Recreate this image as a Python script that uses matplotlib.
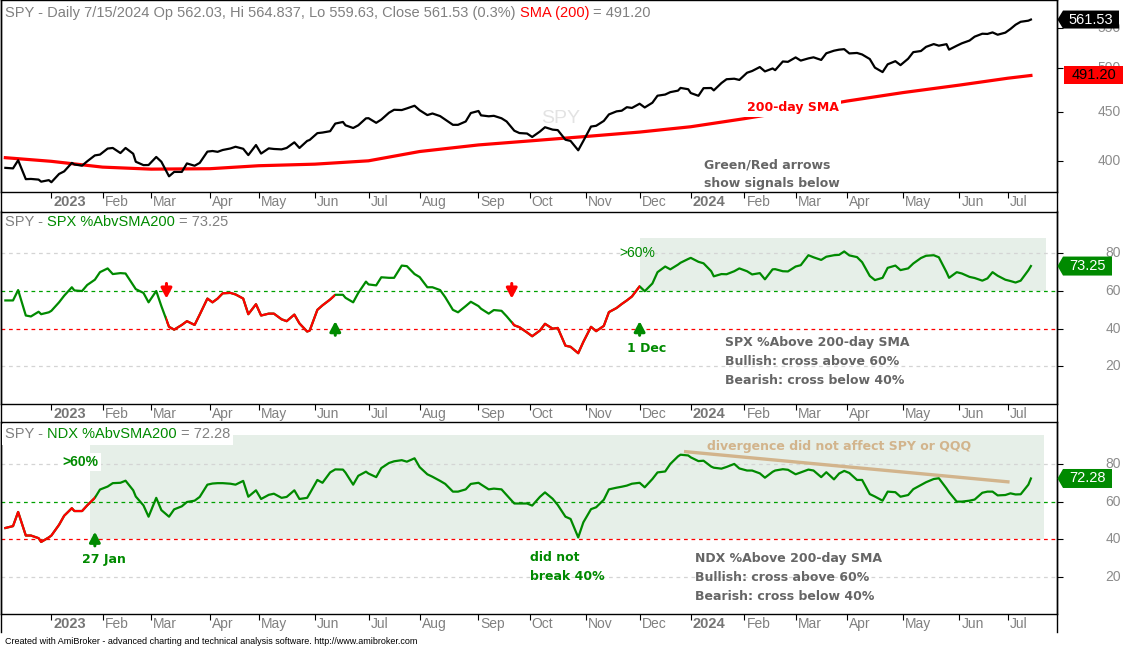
import numpy as np
import pandas as pd
import matplotlib
matplotlib.use('Agg')
import matplotlib.pyplot as plt
from matplotlib.patches import Rectangle, Polygon
from matplotlib.lines import Line2D
from matplotlib.ticker import FixedLocator, NullLocator

plt.rcParams['font.family'] = ['Liberation Sans', 'DejaVu Sans']

W, H = 1123, 647
GREEN = '#008a00'
RED = '#ff0000'
GRAY = '#808080'
NOTE = '#666666'
TAN = '#d2b48c'
SHADE = '#e6efe8'

# US market holidays in the period (trading-day axis like AmiBroker)
HOLIDAYS = ['2022-12-26', '2023-01-02', '2023-01-16', '2023-02-20', '2023-04-07',
            '2023-05-29', '2023-06-19', '2023-07-04', '2023-09-04', '2023-11-23',
            '2023-12-25', '2024-01-01', '2024-01-15', '2024-02-19', '2024-03-29',
            '2024-05-27', '2024-06-19', '2024-07-04']

# Friday samples, first bar Dec 6 2022, last bar Jul 15 2024
fridays = pd.date_range('2022-12-09', '2024-07-12', freq='W-FRI').strftime('%Y-%m-%d').tolist()
dates = ['2022-12-06'] + fridays + ['2024-07-15']
# Tuesday samples in between
tuesdays = pd.date_range('2022-12-13', '2024-07-09', freq='W-TUE').strftime('%Y-%m-%d').tolist()

spy_close_fri = [
    393.8, 393.3, 383.3, 382.9, 382.4,          # Dec 22
    388.1, 398.5, 395.9, 405.7,                 # Jan 23
    412.4, 408.0, 407.3, 396.4,                 # Feb
    404.2, 385.9, 390.0, 395.8, 409.4,          # Mar
    409.2, 412.5, 412.2, 415.9,                 # Apr
    412.6, 411.6, 418.6, 420.0,                 # May
    427.9, 429.9, 439.5, 433.2, 443.3,          # Jun
    438.6, 449.3, 452.2, 456.9,                 # Jul
    446.8, 445.7, 436.5, 440.0,                 # Aug
    451.2, 445.5, 443.4, 430.4, 427.5,          # Sep
    429.5, 431.5, 421.2, 410.7,                 # Oct
    434.7, 440.6, 450.8, 455.3,                 # Nov
    459.1, 460.2, 469.3, 473.7, 475.3,          # Dec
    467.9, 476.7, 482.4, 487.4,                 # Jan 24
    494.4, 501.2, 499.5, 507.9,                 # Feb
    512.9, 511.7, 509.8, 521.2, 523.1,          # Mar
    518.4, 510.9, 495.2, 508.3,                 # Apr
    511.3, 520.8, 529.5, 529.4, 527.4,          # May
    534.0, 542.8, 544.5, 544.2,                 # Jun
    554.6, 560.0, 561.53,                       # Jul
]
spy_close_tue = [
    401.0, 383.5, 381.0,
    380.5, 390.5, 397.0, 400.0, 406.5,
    413.0, 413.0, 399.6, 396.5,
    399.6, 390.0, 398.0, 398.5,
    410.0, 411.0, 414.2, 406.0,
    407.5, 412.0, 413.0, 413.0, 421.0,
    428.5, 437.8, 436.0, 436.0,
    443.5, 442.0, 452.5, 454.0,
    452.0, 448.5, 442.0, 436.5, 449.0,
    446.5, 446.0, 440.0, 428.0,
    424.0, 434.0, 431.0, 420.0, 420.0,
    435.5, 447.5, 451.5, 454.5,
    455.0, 468.0, 472.0, 476.8,
    471.0, 476.5, 474.0, 486.8, 486.0,
    496.5, 496.0, 497.5, 507.5,
    509.0, 513.0, 518.0, 522.5,
    517.8, 516.5, 500.5, 504.5, 503.5,
    519.4, 526.0, 527.5, 522.5,
    530.5, 539.0, 542.5, 541.5,
    549.0, 558.5,
]

spx_pct_fri = [
    55, 55, 47, 49, 48.7,
    54, 62, 60, 66,
    72, 69.5, 63, 59,
    60, 41, 42, 42, 56,
    56, 59, 56, 53,
    48, 45, 47.5, 38.5,
    50, 55.5, 58, 54, 65,
    63, 67, 73.5, 69,
    62, 60.5, 50, 52,
    52, 48, 49.5, 41.8, 38,
    39, 40, 31, 27,
    41, 41.5, 51, 55,
    62.5, 64, 73, 74, 77,
    75.5, 70.5, 69, 70.5,
    70.5, 69.5, 71.5, 70.5,
    73, 79, 76.5, 79, 81,
    78, 68, 67, 73.5,
    72, 77.5, 79, 70, 70,
    67.5, 65.5, 70, 66,
    64.5, 71, 73.25,
]
spx_pct_tue = [
    60.5, 46.5, 47.7,
    49.5, 57.5, 60.3, 63.2, 70,
    69, 69.3, 61, 54,
    52, 39.5, 44, 47.5,
    54, 58.8, 58.2, 47.7,
    47, 48, 44, 42.8, 39,
    52.4, 58, 56.4, 59,
    63.5, 67.3, 67, 73.2,
    67.4, 62, 56.7, 48.7, 54.3,
    50.6, 49.9, 46.6, 40.8,
    36, 42.6, 40.4, 30.4, 33,
    38.7, 48.8, 53.1, 57.1,
    59.9, 70, 71.5, 75,
    77.6, 74.7, 67.8, 68.9, 72,
    68.8, 66.2, 71.6, 70.4,
    73.7, 77.9, 78.2, 79.2,
    78.9, 75.3, 65.8, 72.3, 71.1,
    74.6, 78.7, 77.9, 67,
    69.3, 66.9, 66.7, 68.1,
    65.3, 65.5,
]

ndx_pct_fri = [
    46, 47, 42, 40.6, 41,
    47.7, 56.5, 55, 62,
    68, 70, 66, 58,
    62, 52, 57.5, 60.5, 69,
    69.8, 69.5, 71, 66,
    63.6, 62, 66, 62,
    71.5, 75.5, 77, 69, 75.9,
    73, 80.5, 82, 83,
    74.5, 71, 65.3, 66.5,
    70, 66.5, 66.5, 59, 59,
    62.5, 61.5, 52, 41,
    56, 61, 67.4, 68.5,
    70, 72, 76, 84, 84.5,
    81.5, 78.6, 77.5, 80,
    76.5, 75, 75.8, 77.2,
    74.5, 77, 73, 71.8, 76.3,
    71.5, 64, 60.5, 65,
    63.5, 68.8, 72, 67, 60,
    60.5, 64.7, 65.3, 63.5,
    63.8, 69, 72.28,
]
ndx_pct_tue = [
    54.5, 42, 38.6,
    42, 52.5, 55, 58, 66.4,
    69.8, 71.1, 62.7, 52,
    55.5, 55.9, 59.8, 62.5,
    69.6, 69.8, 69, 62.6,
    61.4, 64.2, 62.5, 61.4, 64.3,
    70, 77.1, 75.4, 73.7,
    74.9, 77.8, 81.4, 81.2,
    78.3, 73.2, 69.4, 65.3, 69.4,
    69.1, 66.9, 63.5, 59,
    57.9, 64.9, 58.2, 50.8, 49,
    57, 66.5, 67.9, 69.5,
    67.6, 75.5, 80, 84.9,
    83.5, 81.7, 78, 78.4, 77.6,
    76.5, 72.7, 76.5, 76.9,
    75.5, 76.5, 75.6, 74.9,
    75.2, 71.5, 62.7, 65.3, 62.6,
    66.6, 70.3, 72.4, 65,
    60, 61.1, 65.3, 63.3,
    64.4, 63.9,
]

sma_dates = ['2022-12-06', '2023-01-03', '2023-02-01', '2023-03-01', '2023-04-03',
             '2023-05-01', '2023-06-01', '2023-07-03', '2023-08-01', '2023-09-01',
             '2023-10-02', '2023-11-01', '2023-12-01', '2024-01-02', '2024-02-01',
             '2024-03-01', '2024-04-01', '2024-05-01', '2024-06-03', '2024-07-01',
             '2024-07-15']
sma200 = [403.5, 400, 394.5, 392.6, 393.0, 395.8, 397.3, 400.5, 409.5, 416,
          420, 424.5, 429, 434.5, 443, 452, 462, 471.5, 480, 488, 491.2]

spx_sell_dates = ['2023-03-09', '2023-09-21']
spx_buy_dates = ['2023-06-13', '2023-12-01']
ndx_buy_dates = ['2023-01-27']


def bar(d, roll='backward'):
    d = np.busday_offset(np.datetime64(d, 'D'), 0, roll=roll, holidays=HOLIDAYS)
    return int(np.busday_count(np.datetime64('2023-01-03'), d, holidays=HOLIDAYS))


x_fri = np.array([bar(d) for d in dates])
x_tue = np.array([bar(d) for d in tuesdays])
x_sma = np.array([bar(d) for d in sma_dates])
XLIM = (-19.7, 393.2)

# merge Friday and Tuesday samples in time order
x_all = np.concatenate([x_fri, x_tue])
order = np.argsort(x_all, kind='stable')
x_all = x_all[order]
spy_close = np.concatenate([spy_close_fri, spy_close_tue])[order]
spx_pct = np.concatenate([spx_pct_fri, spx_pct_tue])[order]
ndx_pct = np.concatenate([ndx_pct_fri, ndx_pct_tue])[order]

months = pd.date_range('2023-01-01', '2024-07-01', freq='MS')
month_bars = [bar(m.strftime('%Y-%m-%d'), roll='forward') for m in months]
month_labels = [str(m.year) if m.month == 1 else m.strftime('%b') for m in months]

fig = plt.figure(figsize=(W / 100, H / 100), dpi=100)


def px_axes(top, bottom):
    return fig.add_axes([1 / W, 1 - bottom / H, 1056 / W, (bottom - top) / H])


def fx(px):
    return px / W


def fy(py):
    return 1 - py / H


def style_axes(ax, yt):
    ax.set_xlim(*XLIM)
    for s in ax.spines.values():
        s.set_linewidth(1.0)
        s.set_color('black')
    ax.xaxis.set_major_locator(FixedLocator(month_bars))
    ax.yaxis.set_major_locator(FixedLocator(yt))
    ax.yaxis.set_minor_locator(NullLocator())
    ax.tick_params(axis='x', direction='out', length=4.5, width=0.8, labelbottom=False)
    ax.tick_params(axis='y', which='both', left=False, right=True, direction='out',
                   length=4.5, width=0.8, labelleft=False, labelright=False)
    for b, lab in zip(month_bars, month_labels):
        year = lab.isdigit()
        ax.annotate(lab, xy=(b, 0), xycoords=('data', 'axes fraction'),
                    xytext=(1.6, -7.4), textcoords='offset points', ha='left', va='center',
                    fontsize=10.5 if year else 10, fontweight='bold' if year else 'normal',
                    color='#757575' if year else GRAY, annotation_clip=False)
    for v in yt:
        ax.annotate(str(v), xy=(1, v), xycoords=('axes fraction', 'data'),
                    xytext=(46, 0), textcoords='offset points', ha='right', va='center',
                    fontsize=10, color='#8c8c8c', annotation_clip=False)


def value_tag(ax, value, label, face, tcolor, arrow=True, x0=1063, x1=1119, half=9):
    ypx = ax.transData.transform((XLIM[0], value))[1]
    yc = ypx / H
    hy = half / H
    if arrow:
        pts = [(fx(1057.5), yc), (fx(x0), yc + hy), (fx(x1), yc + hy),
               (fx(x1), yc - hy), (fx(x0), yc - hy)]
    else:
        pts = [(fx(x0), yc + hy), (fx(x1), yc + hy), (fx(x1), yc - hy), (fx(x0), yc - hy)]
    fig.add_artist(Polygon(pts, closed=True, transform=fig.transFigure,
                           facecolor=face, edgecolor='none', zorder=10))
    fig.text(fx((x0 + x1) / 2), yc, label, ha='center', va='center', color=tcolor,
             fontsize=10.5, zorder=11)


def colored_title(parts, y_base, bg=False):
    r = fig.canvas.get_renderer()
    xp = 5
    space = 4
    for txt, col in parts:
        kw = {}
        if bg:
            kw['bbox'] = dict(facecolor='white', edgecolor='none', pad=2.5)
        t = fig.text(fx(xp), fy(y_base), txt, color=col, fontsize=10.5,
                     ha='left', va='baseline', zorder=8, **kw)
        xp += t.get_window_extent(r).width + space


def signal_line(ax, vals, red_spans):
    ax.plot(x_all, vals, color=GREEN, lw=1.6, zorder=3, solid_joinstyle='round')
    for b0, b1 in red_spans:
        ln, = ax.plot(x_all, vals, color=RED, lw=1.6, zorder=4, solid_joinstyle='round')
        clip = Rectangle((b0, -50), b1 - b0, 300, transform=ax.transData)
        ln.set_clip_path(clip)


def arrow(ax, b, tail, tip, col):
    ax.annotate('', xy=(b, tip), xytext=(b, tail),
                arrowprops=dict(arrowstyle='-|>,head_width=0.32,head_length=0.6',
                                color=col, lw=2.2, shrinkA=0, shrinkB=0, mutation_scale=10),
                zorder=6)


def pct_guides(ax):
    for v in (20, 80):
        ax.axhline(v, color='#d4d4d4', lw=0.9, ls=(0, (3, 3)), zorder=1)
    ax.axhline(60, color='#00a000', lw=0.9, ls=(0, (3, 3)), zorder=2)
    ax.axhline(40, color=RED, lw=0.9, ls=(0, (3, 3)), zorder=2)


# ---------------- panel 1: SPY with 200-day SMA ----------------
ax1 = px_axes(0, 192)
ax1.set_yscale('log')
ax1.set_ylim(371.7, 588.4)
style_axes(ax1, [400, 450, 500, 550])
ax1.plot(x_all, spy_close, color='black', lw=1.6, zorder=3)
ax1.plot(x_sma, sma200, color=RED, lw=2.3, zorder=2)
ax1.text((541 - 1) / 1056, (192 - 118.5) / 192, 'SPY', transform=ax1.transAxes,
         color='#e3e3e3', fontsize=14, ha='left', va='center', zorder=0)

# ---------------- panel 2: SPX % above 200-day ----------------
ax2 = px_axes(211.5, 403.7)
ax2.set_ylim(0.2, 102.2)
style_axes(ax2, [20, 40, 60, 80])
pct_guides(ax2)
ax2.add_patch(Rectangle((bar('2023-12-01'), 60), bar('2024-07-23') - bar('2023-12-01'), 28.3,
                        facecolor=SHADE, edgecolor='none', zorder=0))
signal_line(ax2, spx_pct, [(bar(a), bar(b)) for a, b in zip(spx_sell_dates, spx_buy_dates)])
for d in spx_sell_dates:
    arrow(ax2, bar(d), 64, 56, RED)
for d in spx_buy_dates:
    arrow(ax2, bar(d), 36.5, 44, GREEN)

# ---------------- panel 3: NDX % above 200-day ----------------
ax3 = px_axes(422.3, 614)
ax3.set_ylim(0.35, 102.1)
style_axes(ax3, [20, 40, 60, 80])
pct_guides(ax3)
ax3.add_patch(Rectangle((bar('2023-01-25'), 40), bar('2024-07-22') - bar('2023-01-25'), 55.4,
                        facecolor=SHADE, edgecolor='none', zorder=0))
signal_line(ax3, ndx_pct, [(XLIM[0], bar(ndx_buy_dates[0]))])
for d in ndx_buy_dates:
    arrow(ax3, bar(d), 36.5, 44, GREEN)
ax3.plot([bar('2023-12-28'), bar('2024-07-01')], [86.5, 70.5], color=TAN, lw=2.4, zorder=5)

# ---------------- frame lines through the date strips ----------------
for xp in (1, 1057):
    fig.add_artist(Line2D([fx(xp), fx(xp)], [fy(632), 1], color='black', lw=1.0,
                          transform=fig.transFigure))

# ---------------- titles ----------------
colored_title([('SPY - Daily 7/15/2024 Op 562.03, Hi 564.837, Lo 559.63, Close 561.53 (0.3%)', GRAY),
               ('SMA (200)', RED), ('= 491.20', GRAY)], 17)
colored_title([('SPY -', GRAY), ('SPX %AbvSMA200', GREEN), ('= 73.25', GRAY)], 226.5)
colored_title([('SPY -', GRAY), ('NDX %AbvSMA200', GREEN), ('= 72.28', GRAY)], 438, bg=True)

# ---------------- notes ----------------
bold = dict(family='DejaVu Sans', fontweight='bold', fontsize=9, va='center', ha='left', zorder=9)
fig.text(fx(746.6), fy(108), '200-day SMA', color=RED,
         bbox=dict(facecolor='white', edgecolor='none', pad=1.5), **bold)
fig.text(fx(704), fy(165), 'Green/Red arrows', color=NOTE, **bold)
fig.text(fx(704), fy(184), 'show signals below', color=NOTE, **bold)

fig.text(fx(619.6), fy(252.7), '>60%', color=GREEN, fontsize=10, va='center', ha='left', zorder=9)
fig.text(fx(626.8), fy(349), '1 Dec', color=GREEN, **bold)
for i, line in enumerate(['SPX %Above 200-day SMA', 'Bullish: cross above 60%',
                          'Bearish: cross below 40%']):
    fig.text(fx(725.3), fy(342.7 + 18.9 * i), line, color=NOTE, **bold)

fig.text(fx(62.5), fy(461.7), '>60%', color=GREEN, fontsize=10, fontweight='bold',
         va='center', ha='left', zorder=9,
         bbox=dict(facecolor='white', edgecolor='none', pad=1.5))
fig.text(fx(82), fy(559.3), '27 Jan', color=GREEN, **bold)
fig.text(fx(530), fy(557.7), 'did not', color=GREEN, **bold)
fig.text(fx(530), fy(576.7), 'break 40%', color=GREEN, **bold)
fig.text(fx(707), fy(446.7), 'divergence did not affect SPY or QQQ', color=TAN, **bold)
for i, line in enumerate(['NDX %Above 200-day SMA', 'Bullish: cross above 60%',
                          'Bearish: cross below 40%']):
    fig.text(fx(695.4), fy(558.3 + 19.2 * i), line, color=NOTE, **bold)

# ---------------- last-value tags ----------------
value_tag(ax1, spy_close[-1], '561.53', 'black', 'white')
value_tag(ax1, sma200[-1], '491.20', RED, 'black', arrow=False, x0=1064, x1=1123)
value_tag(ax2, spx_pct[-1], '73.25', GREEN, 'white', x1=1112, half=9.5)
value_tag(ax3, ndx_pct[-1], '72.28', GREEN, 'white', x1=1112, half=9.5)

fig.text(fx(5), fy(641), 'Created with AmiBroker - advanced charting and technical analysis software. '
         'http://www.amibroker.com', fontsize=6.5, color='black', va='center', ha='left')

fig.savefig('out.png', dpi=100, facecolor='white')
